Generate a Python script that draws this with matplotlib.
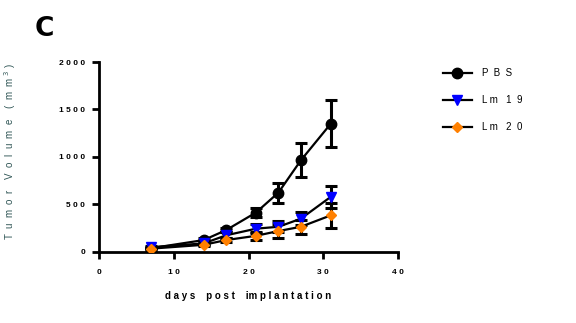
import matplotlib
matplotlib.use("Agg")
import matplotlib.pyplot as plt

days = [7, 14, 17, 21, 24, 27, 31]
pbs = [40, 125, 230, 415, 625, 965, 1350]
pbs_err = [15, 20, 25, 50, 105, 180, 250]
lm19 = [50, 90, 175, 245, 265, 350, 580]
lm19_err = [10, 15, 30, 45, 60, 70, 115]
lm20 = [35, 75, 125, 170, 220, 265, 385]
lm20_err = [8, 12, 20, 40, 70, 75, 130]

series_names = ["P  B  S", "L m   1  9", "L m   2  0"]
xticks = [0, 10, 20, 30, 40]
yticks = [0, 500, 1000, 1500, 2000]

def spaced(s):
    return " ".join(s)

plt.rcParams['font.family'] = ['Liberation Sans', 'DejaVu Sans']

fig = plt.figure(figsize=(5.76, 3.23), dpi=100)
ax = fig.add_axes([0.172, 0.22, 0.519, 0.588])

styles = [
    dict(marker='o', mfc='black', mec='black', ms=7.5),
    dict(marker='v', mfc='#0000ff', mec='#0000ff', ms=7.5),
    dict(marker='D', mfc='#ff8000', mec='#ff8000', ms=5),
]
for vals, errs, name, st in zip([pbs, lm19, lm20], [pbs_err, lm19_err, lm20_err], series_names, styles):
    ax.errorbar(days, vals, yerr=errs, fmt='none', ecolor='black', elinewidth=2.2, capsize=4, capthick=2.2, zorder=2)
    ax.plot(days, vals, '-', color='black', lw=1.6, marker=st['marker'], mfc=st['mfc'], mec=st['mec'],
            ms=st['ms'], label=name, zorder=3)

ax.set_xlim(0, 40)
ax.set_ylim(0, 2000)
ax.set_xticks(xticks)
ax.set_yticks(yticks)
ax.set_xticklabels([spaced(str(t)) for t in xticks], fontsize=6, fontweight='bold')
ax.set_yticklabels([spaced(str(t)) for t in yticks], fontsize=6, fontweight='bold')
for s in ['top', 'right']:
    ax.spines[s].set_visible(False)
for s in ['left', 'bottom']:
    ax.spines[s].set_linewidth(2)
ax.tick_params(direction='out', length=5, width=2)
ax.tick_params(axis='y', pad=5)
ax.tick_params(axis='x', pad=7)

ax.set_xlabel(spaced("days") + "    " + spaced("post") + "    " + "im " + spaced("plantation"),
              fontsize=7, fontweight='bold', labelpad=11)
ax.set_ylabel("T  u  m  o  r    V  o  l  u  m  e    (  m  m $^{3}$ )", fontsize=7, color='#2f5555', labelpad=22)
ax.yaxis.set_label_coords(-0.27, 0.53)

leg = ax.legend(loc='upper left', bbox_to_anchor=(1.12, 1.015), frameon=False, fontsize=7,
                handlelength=3, labelspacing=1.75, handletextpad=1.0)

fig.text(0.06, 0.91, "C", fontsize=19, fontweight='heavy', family='DejaVu Sans', ha='left', va='center')

fig.savefig("out.png", dpi=100)
